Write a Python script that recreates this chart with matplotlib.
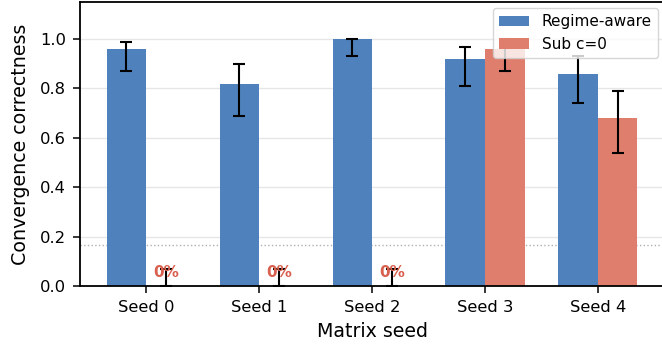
import numpy as np
import matplotlib
matplotlib.use("Agg")
import matplotlib.pyplot as plt

seeds = ["Seed 0", "Seed 1", "Seed 2", "Seed 3", "Seed 4"]
regime_mean = [0.96, 0.82, 1.00, 0.92, 0.86]
regime_low = [0.87, 0.69, 0.93, 0.81, 0.74]
regime_high = [0.99, 0.90, 1.00, 0.97, 0.93]
sub_mean = [0.0, 0.0, 0.0, 0.96, 0.68]
sub_low = [0.0, 0.0, 0.0, 0.87, 0.54]
sub_high = [0.07, 0.07, 0.07, 1.00, 0.79]
chance = 1 / 6

blue = "#4f82bd"
red = "#e07e6e"

x = np.arange(len(seeds))
w = 0.35

fig = plt.figure(figsize=(6.62, 3.47), dpi=100)
ax = fig.add_axes([0.121, 0.176, 0.882, 0.818])

r_err = [np.array(regime_mean) - np.array(regime_low), np.array(regime_high) - np.array(regime_mean)]
s_err = [np.array(sub_mean) - np.array(sub_low), np.array(sub_high) - np.array(sub_mean)]

ax.bar(x - w / 2, regime_mean, w, color=blue, label="Regime-aware", zorder=2,
       yerr=r_err, capsize=4.5, error_kw=dict(elinewidth=1.5, capthick=1.5, ecolor="black"))
ax.bar(x + w / 2, sub_mean, w, color=red, label="Sub c=0", zorder=2,
       yerr=s_err, capsize=4.5, error_kw=dict(elinewidth=1.5, capthick=1.5, ecolor="black"))

for i, v in enumerate(sub_mean):
    if v == 0:
        ax.text(x[i] + w / 2, 0.022, "0%", ha="center", va="bottom",
                color="#d9604f", fontsize=11, fontweight="bold", zorder=3)

ax.axhline(chance, color="#b0b0b0", linestyle=":", linewidth=1, zorder=1)

ax.set_ylim(0, 1.15)
ax.set_xticks(x)
ax.set_xticklabels(seeds)
ax.tick_params(labelsize=11.8, length=5, width=1.1, pad=5)
ax.set_xlabel("Matrix seed", fontsize=13.7, labelpad=5)
ax.set_ylabel("Convergence correctness", fontsize=13.7, labelpad=7)
ax.yaxis.grid(True, color="#e6e6e6", linewidth=1, zorder=0)
ax.set_axisbelow(True)
for s in ax.spines.values():
    s.set_linewidth(1.3)
ax.legend(loc="upper right", fontsize=11, framealpha=0.8, edgecolor="#cccccc",
          borderaxespad=0.4)

fig.savefig("out.png", dpi=100)
